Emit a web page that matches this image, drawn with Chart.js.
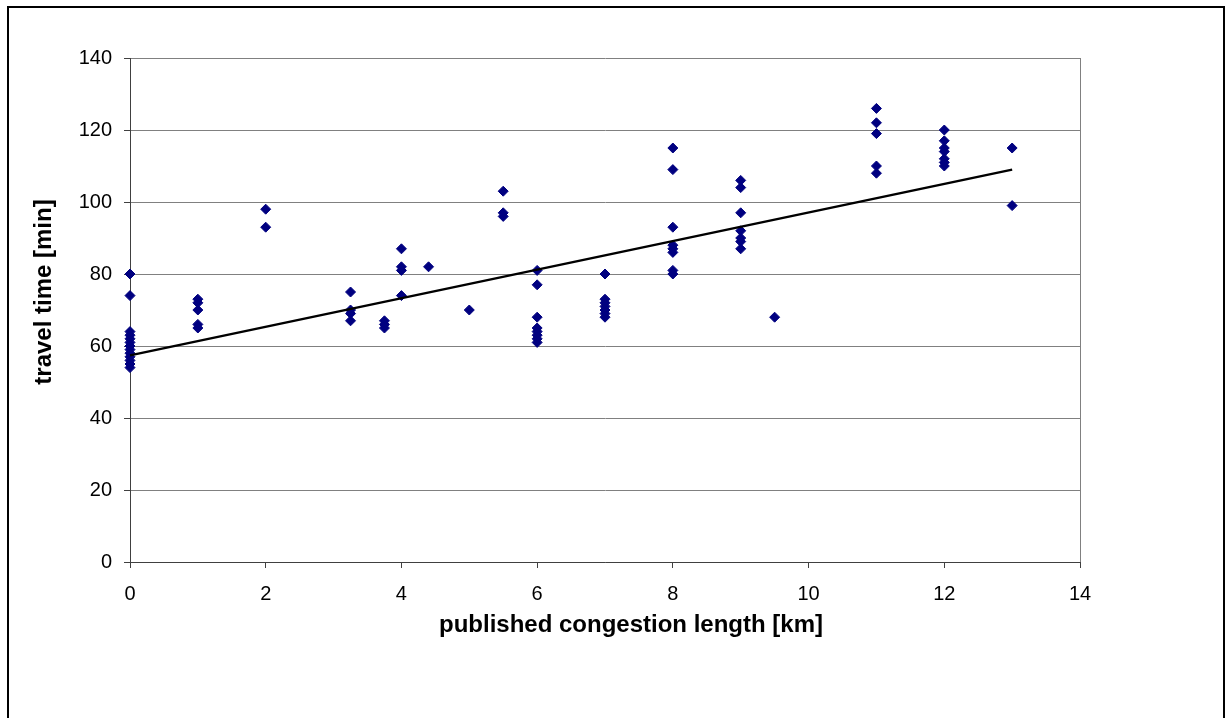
<!DOCTYPE html>
<html>
<head>
<meta charset="utf-8">
<script src="https://cdn.jsdelivr.net/npm/chart.js@4/dist/chart.umd.min.js"></script>
<style>
    html, body { margin: 0; padding: 0; background: #fff; overflow: hidden; }
    #frame {
        position: absolute; left: 7px; top: 6px; width: 1218px; height: 800px;
        box-sizing: border-box; border: 2px solid #000; border-bottom: none;
    }
    #chart { position: absolute; left: 0; top: 0; }
</style>
</head>
<body>
<div id="frame"></div>
<canvas id="chart" width="1229" height="718"></canvas>
<script>
// published congestion length [km] and measured travel time [min], one pair per trip
const congestionKm = [
    0, 0, 0, 0, 0, 0, 0, 0, 0, 0, 0, 0, 0,
    1, 1, 1, 1, 1,
    2, 2,
    3.25, 3.25, 3.25, 3.25,
    3.75, 3.75, 3.75,
    4, 4, 4, 4,
    4.4,
    5,
    5.5, 5.5, 5.5,
    6, 6, 6, 6, 6, 6, 6, 6,
    7, 7, 7, 7, 7, 7, 7,
    8, 8, 8, 8, 8, 8, 8, 8,
    9, 9, 9, 9, 9, 9, 9,
    9.5,
    11, 11, 11, 11, 11,
    12, 12, 12, 12, 12, 12, 12,
    13, 13
];
const travelMin = [
    80, 74, 64, 63, 62, 61, 60, 59, 58, 57, 56, 55, 54,
    73, 72, 70, 66, 65,
    98, 93,
    75, 70, 69, 67,
    67, 66, 65,
    87, 82, 81, 74,
    82,
    70,
    103, 97, 96,
    81, 77, 68, 65, 64, 63, 62, 61,
    80, 73, 72, 71, 70, 69, 68,
    115, 109, 93, 88, 87, 86, 81, 80,
    106, 104, 97, 92, 90, 89, 87,
    68,
    126, 122, 119, 110, 108,
    120, 117, 115, 114, 112, 111, 110,
    115, 99
];
// linear trend line end points
const trendKm = [0, 13];
const trendMin = [57.4, 109];

const xTicks = [0, 2, 4, 6, 8, 10, 12, 14];
const yTicks = [0, 20, 40, 60, 80, 100, 120, 140];

const fontFamily = '"Liberation Sans", Arial, Helvetica, sans-serif';
const xTitle = 'published congestion length [km]';
const yTitle = 'travel time [min]';

// axis titles drawn by hand: the original places them off the plot centre
const axisTitlePlugin = {
    id: 'axisTitles',
    afterDraw(chart) {
        const ctx = chart.ctx;
        const area = chart.chartArea;
        ctx.save();
        ctx.font = 'bold 24px ' + fontFamily;
        ctx.fillStyle = '#000';
        ctx.textAlign = 'center';
        ctx.textBaseline = 'alphabetic';
        ctx.fillText(xTitle, (area.left + area.right) / 2 + 26, area.bottom + 70);
        ctx.translate(51, (area.top + area.bottom) / 2 - 18);
        ctx.rotate(-Math.PI / 2);
        ctx.fillText(yTitle, 0, 0);
        ctx.restore();
    }
};

const points = congestionKm.map((x, i) => ({ x: x, y: travelMin[i] }));
const trend = trendKm.map((x, i) => ({ x: x, y: trendMin[i] }));

const config = {
    type: 'scatter',
    data: {
        datasets: [
            {
                label: 'travel time',
                data: points,
                pointStyle: 'rectRot',
                pointRadius: 5,
                borderWidth: 1,
                backgroundColor: '#000080',
                borderColor: '#000080',
                clip: false,
                order: 2
            },
            {
                label: 'trend',
                data: trend,
                showLine: true,
                pointRadius: 0,
                borderColor: '#000',
                borderWidth: 2.5,
                clip: false,
                order: 1
            }
        ]
    },
    options: {
        responsive: false,
        animation: false,
        layout: {
            padding: { left: 0, top: 58, right: 149, bottom: 76 }
        },
        scales: {
            x: {
                type: 'linear',
                min: 0,
                max: 14,
                afterBuildTicks: (scale) => { scale.ticks = xTicks.map(v => ({ value: v })); },
                afterFit: (scale) => { scale.height = 80; },
                ticks: {
                    color: '#000',
                    padding: 14,
                    font: { family: fontFamily, size: 20 }
                },
                grid: {
                    color: (c) => (c.tick && c.tick.value === 14 ? '#808080' : 'rgba(0,0,0,0)'),
                    tickColor: '#404040',
                    tickLength: 6,
                    lineWidth: 1
                },
                border: { color: '#404040', width: 1 }
            },
            y: {
                type: 'linear',
                min: 0,
                max: 140,
                afterBuildTicks: (scale) => { scale.ticks = yTicks.map(v => ({ value: v })); },
                afterFit: (scale) => { scale.width = 130; },
                ticks: {
                    color: '#000',
                    padding: 12,
                    font: { family: fontFamily, size: 20 }
                },
                grid: {
                    color: '#808080',
                    tickColor: '#404040',
                    tickLength: 6,
                    lineWidth: 1
                },
                border: { color: '#404040', width: 1 }
            }
        },
        plugins: {
            legend: { display: false },
            tooltip: { enabled: false }
        }
    },
    plugins: [axisTitlePlugin]
};

const ctx = document.getElementById('chart').getContext('2d');
const chart = new Chart(ctx, config);
</script>
</body>
</html>
